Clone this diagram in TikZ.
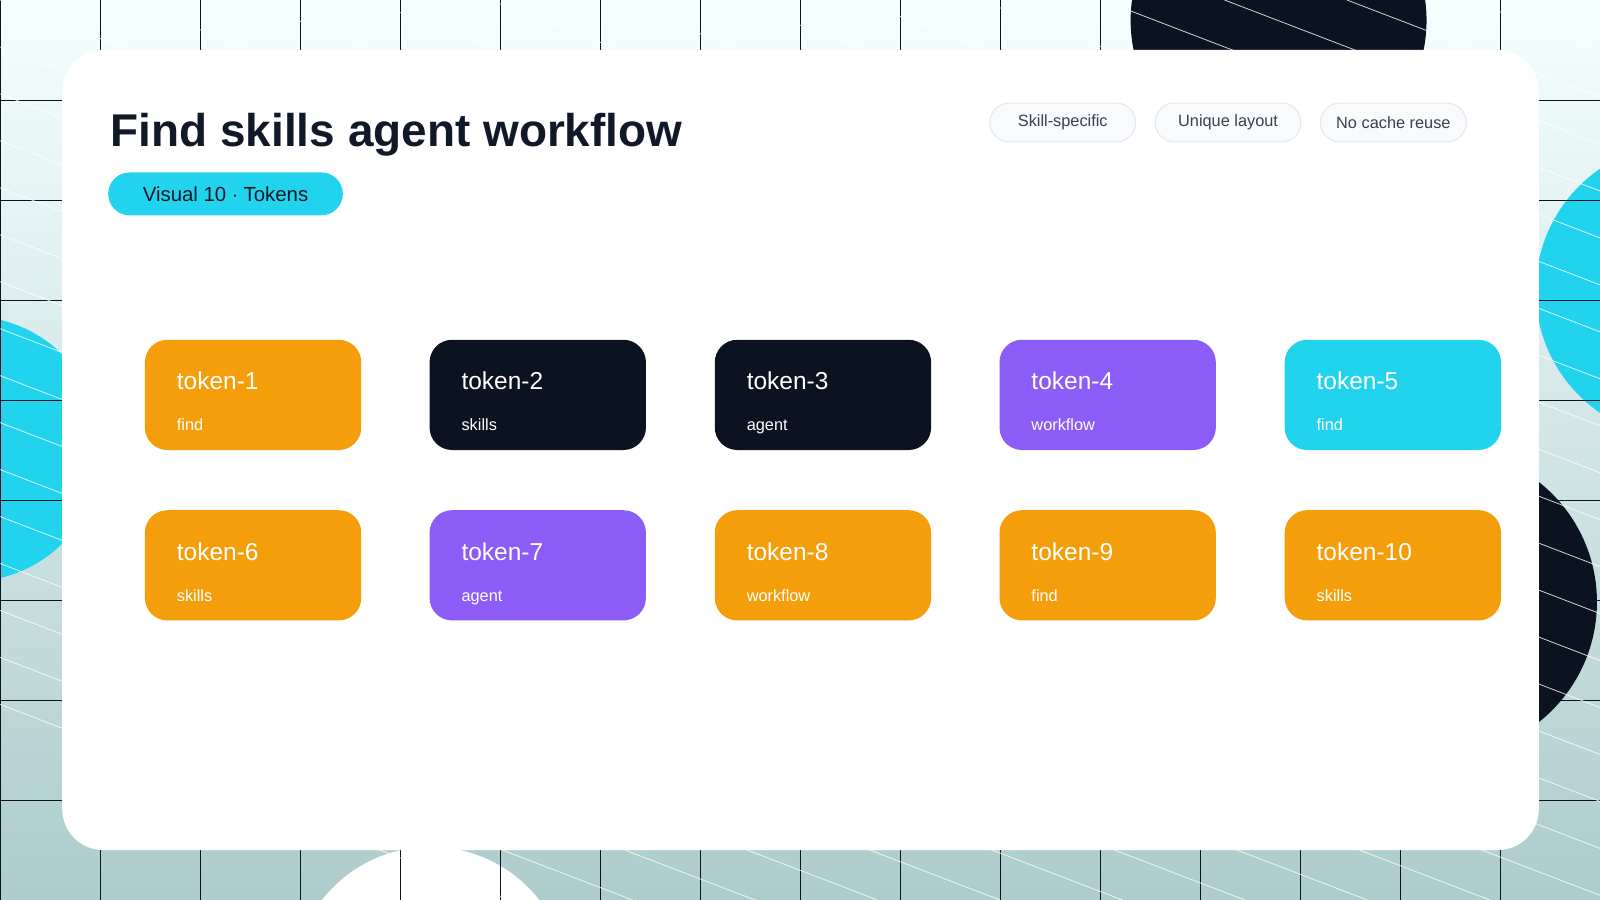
\documentclass[tikz,border=0pt]{standalone}
\usepackage{fontspec}
\setmainfont{Liberation Sans}
\usetikzlibrary{positioning}
\definecolor{navy}{HTML}{0B1220}
\definecolor{tokorange}{HTML}{F59E0B}
\definecolor{tokpurple}{HTML}{8B5CF6}
\definecolor{tokcyan}{HTML}{22D3EE}
\definecolor{chipgray}{HTML}{F8FAFC}
\definecolor{chipline}{HTML}{E2E8F0}
\definecolor{inkdark}{HTML}{111827}
\definecolor{inkgray}{HTML}{374151}
\tikzset{
  tokbox/.style={rectangle, rounded corners=22pt, minimum width=212pt, minimum height=108pt, inner sep=0pt},
  tokname/.style={anchor=base west, text=white, font=\fontsize{24}{28}\selectfont},
  toksub/.style={anchor=base west, text=white, font=\fontsize{16}{19}\selectfont},
  chip/.style={rectangle, rounded corners=19pt, fill=chipgray, draw=chipline, line width=1pt, minimum width=143pt, minimum height=38pt, text=inkgray, font=\fontsize{16}{19}\selectfont},
}
\begin{document}
\begin{tikzpicture}[x=1pt,y=-1pt]
		\useasboundingbox (0,0) rectangle (1568,882);
		\begin{scope}
		\clip (0,0) rectangle (1568,882);
		\shade[top color=white!80!cyan!20, bottom color=cyan!40!teal!20!white!85!black] (0,0) rectangle (1568,882);
		\fill[tokcyan] (-30,440) circle (130);
		\fill[tokcyan] (1650,285) circle (145);
		\fill[navy] (1415,590) circle (150);
		\fill[navy] (1253,20) circle (145);
		\fill[white] (422,965) circle (135);
		\foreach \gx in {0,98,...,1568} \draw[navy, line width=0.8pt] (\gx,0) -- (\gx,882);
		\foreach \gy in {98,196,...,882} \draw[navy, line width=0.8pt] (0,\gy) -- (1568,\gy);
		\foreach \dx in {-1800,-1680,...,1600} \draw[white, line width=0.8pt, opacity=0.8] (\dx,0) -- ++(2300,882);
		\end{scope}
		
		\fill[white] (61,49) [rounded corners=40pt] rectangle (1508,833);
		
		\node[anchor=base west, text=inkdark, font=\fontsize{45}{50}\selectfont\bfseries] (title) at (105,144) {Find skills agent workflow};
		\node[rectangle, rounded corners=21pt, fill=tokcyan, minimum width=230pt, minimum height=42pt, font=\fontsize{20}{24}\selectfont, text=inkdark] (badge) at (221,190) {Visual 10 $\cdot$ Tokens};
		
		\node[chip] (skill) at (1041.5,120) {Skill-specific};
		\node[chip] (layout) at (1203.5,120) {Unique layout};
		\node[chip] (cache) at (1365.5,120) {No cache reuse};
		
		\node[tokbox, fill=tokorange] (t1) at (248,387) {};
		\node[tokbox, fill=navy] (t2) at (527,387) {};
		\node[tokbox, fill=navy] (t3) at (806.5,387) {};
		\node[tokbox, fill=tokpurple] (t4) at (1085.5,387) {};
		\node[tokbox, fill=tokcyan] (t5) at (1365,387) {};
		\node[tokbox, fill=tokorange] (t6) at (248,554) {};
		\node[tokbox, fill=tokpurple] (t7) at (527,554) {};
		\node[tokbox, fill=tokorange] (t8) at (806.5,554) {};
		\node[tokbox, fill=tokorange] (t9) at (1085.5,554) {};
		\node[tokbox, fill=tokorange] (t10) at (1365,554) {};
		
		\foreach \t/\w in {1/find,2/skills,3/agent,4/workflow,5/find,6/skills,7/agent,8/workflow,9/find,10/skills} {
		  \node[tokname] (n\t) at ([xshift=28pt,yshift=5pt]t\t.west) {token-\t};
		  \node[toksub] (s\t) at ([xshift=28pt,yshift=-35pt]t\t.west) {\w};
		}
		\end{tikzpicture}
\end{document}
